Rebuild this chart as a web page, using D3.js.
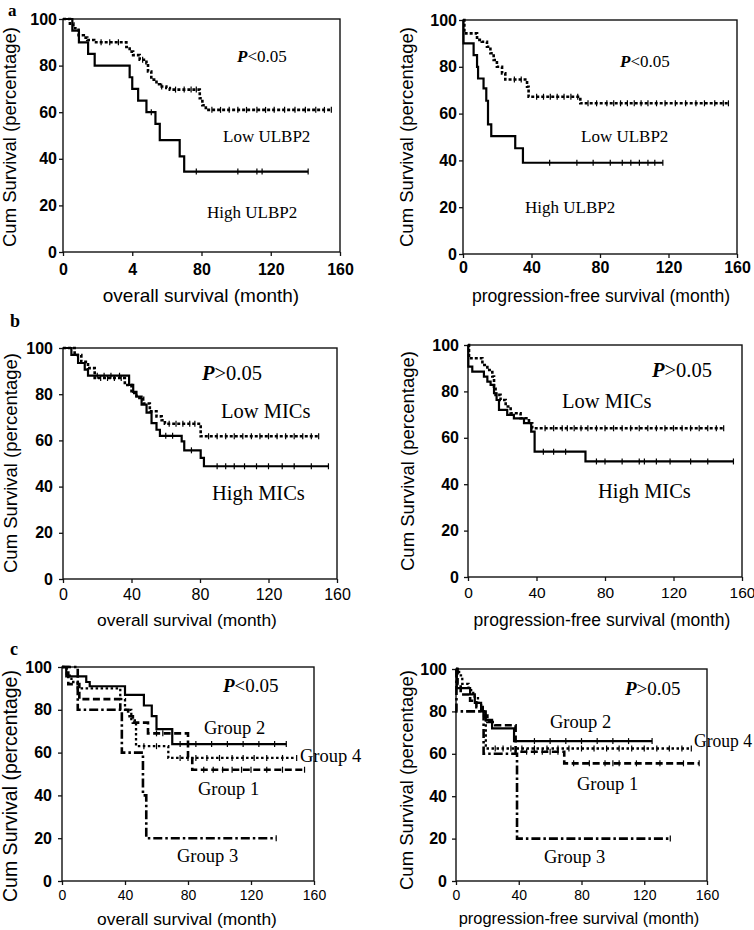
<!DOCTYPE html>
<html><head><meta charset="utf-8">
<script src="https://cdn.jsdelivr.net/npm/d3@7"></script>
<style>body{margin:0;background:#fff;} svg{display:block;}</style>
</head><body>
<script>
// ===== DATA =====
const yTickValues = [0, 20, 40, 60, 80, 100];
const xTickValues = [0, 40, 80, 120, 160];
const xTickLabelsAOS = ["0", "4", "80", "120", "160"];
const xTickLabels = ["0", "40", "80", "120", "160"];
const yTitle = "Cum Survival (percentage)";
const xTitleOS = "overall survival (month)";
const xTitlePFS = "progression-free survival (month)";

// Kaplan-Meier step points [month, survival %]
// Panel a: ULBP2, overall survival
const aOS_high = [[0,100],[5.4,95],[9.2,90],[14.5,85],[18.3,80],[38.5,75],[40,70],[43.4,65],[48.2,60],[53.4,55],[55.9,48],[67.4,41],[70,34.5]];
const aOS_high_end = 141.6;
const aOS_high_cens = [51, 77, 101, 112, 115, 141.6];
const aOS_low = [[0,100],[4,98],[6,96],[9,93],[12,92],[14,91],[18,90],[36.6,88],[38.5,86],[40.5,84.5],[44.3,82.5],[48.2,81],[49.1,77.5],[51,74],[54,72],[55.9,71],[59.7,70.4],[61.7,69.7],[79,66],[80.5,63],[82.5,61]];
const aOS_low_end = 155;
const aOS_low_cens = [22, 27, 32, 46, 57, 65, 70, 74, 77, 86, 91, 96, 101, 106, 112, 117, 122, 128, 134, 140, 146, 151, 155];
// Panel a: ULBP2, progression-free survival
const aPFS_high = [[0,100],[0.3,90],[6.2,85],[8.2,80],[8.8,75],[12,70.8],[13.6,65.5],[14.6,55.4],[16.5,50.4],[30.5,45.2],[35,39]];
const aPFS_high_end = 116.7;
const aPFS_high_cens = [50.6, 66.5, 76, 86, 93, 98, 103, 108, 112, 116.7];
const aPFS_low = [[0,100],[0.8,94.3],[8.2,91.5],[11,90.7],[14,88.6],[16,85.8],[17.9,82.9],[19.8,80],[22.8,77.2],[24.7,74.6],[37.4,71.5],[38.3,67.2],[68.5,64.4]];
const aPFS_low_end = 155;
const aPFS_low_cens = [30, 34, 43, 47, 51, 55, 59, 63, 67, 73, 78, 84, 88, 92, 96, 100, 104, 108, 113, 118, 124, 130, 136, 141, 147, 152, 155];
// Panel b: MICs, overall survival
const bOS_high = [[0,100],[4.9,97],[8.8,93.5],[12.7,90.6],[14.6,88],[38.6,84],[41,81],[42.9,79],[45.9,75.5],[48.8,72],[51.7,67.5],[54.6,64.6],[56.6,62],[69.3,59.6],[70.8,55.7],[80.4,52.4],[82.3,48.8]];
const bOS_high_end = 155;
const bOS_high_cens = [20, 24, 28, 33, 60, 64, 75, 90, 95, 100, 106, 113, 120, 128, 135, 145, 155];
const bOS_low = [[0,100],[6.8,97],[10.7,94],[14.6,91.3],[18.5,87],[36.1,84],[40,80.5],[42.9,78.4],[46.8,76],[50.7,72.6],[54.6,70.4],[57.6,68.7],[59.5,67.2],[80.4,61.8]];
const bOS_low_end = 149.3;
const bOS_low_cens = [22, 26, 30, 34, 62, 66, 70, 74, 77, 85, 90, 95, 100, 105, 110, 115, 120, 125, 130, 135, 140, 145, 149.3];
// Panel b: MICs, progression-free survival
const bPFS_high = [[0,100],[0.2,90.7],[2.5,88.5],[9.3,86.4],[11.3,84.2],[13.2,82.8],[15.2,79.2],[16.7,76.3],[18.1,72],[22.9,69.9],[26.8,68.4],[32.7,66.3],[36.9,62.7],[38.9,54],[68.6,49.8]];
const bPFS_high_end = 155;
const bPFS_high_cens = [44, 50, 57, 75, 80, 90, 100, 103, 110, 118, 130, 140, 155];
const bPFS_low = [[0,100],[0.6,94.3],[8.4,91.4],[11.3,89.2],[14.2,86.4],[15.2,82],[16.1,78.5],[19,76.3],[22,73.5],[24.9,70.6],[30.7,68.4],[35.6,66.3],[37.5,64.1]];
const bPFS_low_end = 149.3;
const bPFS_low_cens = [45, 50, 55, 58, 62, 66, 70, 75, 80, 85, 90, 95, 100, 105, 110, 115, 120, 125, 130, 135, 140, 145, 149.3];
// Panel c: groups, overall survival
const cOS_g1 = [[0,100],[4,92],[11,85],[37,80],[42,77],[45,74],[54.6,69],[80,58],[82.7,52]];
const cOS_g1_end = 154;
const cOS_g1_cens = [60, 64, 90, 96, 102, 108, 114, 120, 130, 140, 154];
const cOS_g2 = [[0,100],[2.7,95.6],[15.4,93],[17.6,91],[40,87],[52,82],[57,77],[60,71],[70,64]];
const cOS_g2_end = 142.4;
const cOS_g2_cens = [75, 85, 95, 105, 115, 125, 135, 142.4];
const cOS_g3 = [[0,100],[10,80],[38,60],[51.4,40],[53.5,20]];
const cOS_g3_end = 136;
const cOS_g3_cens = [136];
const cOS_g4 = [[0,100],[3,96],[6,93],[10,90],[37,85],[40,80],[44,75],[47,63],[67.5,57.5]];
const cOS_g4_end = 149;
const cOS_g4_cens = [52, 60, 75, 80, 85, 92, 100, 108, 115, 122, 130, 140, 149];
// Panel c: groups, progression-free survival
const cPFS_g1 = [[0,100],[1,93],[3,88],[9,85],[13,82],[17,78],[20,75],[25,73.5],[38,61],[69,55.5]];
const cPFS_g1_end = 155;
const cPFS_g1_cens = [45, 50, 55, 60, 65, 75, 85, 95, 100, 104, 115, 130, 145, 155];
const cPFS_g2 = [[0,100],[0.5,91],[9,88],[12,84],[16,80],[19,76],[23,72],[37,66]];
const cPFS_g2_end = 125;
const cPFS_g2_cens = [50, 60, 70, 80, 90, 100, 110, 125];
const cPFS_g3 = [[0,100],[0.3,80],[17.6,60],[38.9,20]];
const cPFS_g3_end = 136.6;
const cPFS_g3_cens = [136.6];
const cPFS_g4 = [[0,100],[2,97],[4,93],[8,90],[11,87],[14,84],[16,80],[18,76],[19,62.5]];
const cPFS_g4_end = 150;
const cPFS_g4_cens = [25, 30, 35, 42, 50, 58, 65, 72, 80, 88, 96, 104, 112, 120, 128, 136, 144, 150];

// ===== LAYOUT / STYLE =====
const SANS = "'Liberation Sans', Arial, Helvetica, sans-serif";
const SERIF = "'Liberation Serif', 'Times New Roman', Times, serif";
const STYLES = {
  solid:   {w: 2.2, dash: null},
  dotted:  {w: 2.6, dash: "3,2"},
  dots4:   {w: 2.3, dash: "2.5,2.5"},
  dashed:  {w: 2.6, dash: "7,3.5"},
  dashdot: {w: 2.6, dash: "9,3,2.5,3"}
};

const svg = d3.select("body").append("svg").attr("width", 754).attr("height", 930);

function survAt(steps, t) {
  let v = steps[0][1];
  for (const s of steps) { if (s[0] <= t) v = s[1]; }
  return v;
}

function drawPanel(p) {
  const x = d3.scaleLinear().domain([0, 160]).range([p.l, p.r]);
  const y = d3.scaleLinear().domain([0, 100]).range([p.b, p.t]);
  const g = svg.append("g");

  // y axis
  const yAx = g.append("g").attr("transform", `translate(${p.l},0)`)
    .call(d3.axisLeft(y).tickValues(yTickValues).tickSize(4).tickPadding(p.yPad));
  yAx.select(".domain").remove();
  yAx.selectAll("line").attr("stroke", "#111").attr("stroke-width", 1.3);
  yAx.selectAll("text").attr("font-family", SANS).attr("font-size", p.yFs)
    .attr("font-weight", "bold").attr("fill", "#000");

  // x axis
  const xAx = g.append("g").attr("transform", `translate(0,${p.b})`)
    .call(d3.axisBottom(x).tickValues(xTickValues).tickSize(4)
      .tickPadding(p.xBase - p.b - 4 - 0.71 * p.xFs)
      .tickFormat((d, i) => p.xLabels[i]));
  xAx.select(".domain").remove();
  xAx.selectAll("line").attr("stroke", "#111").attr("stroke-width", 1.3);
  xAx.selectAll("text").attr("font-family", SANS).attr("font-size", p.xFs)
    .attr("font-weight", p.xBold ? "bold" : "normal").attr("fill", "#000");

  // frame
  g.append("rect").attr("x", p.l).attr("y", p.t).attr("width", p.r - p.l).attr("height", p.b - p.t)
    .attr("fill", "none").attr("stroke", "#111").attr("stroke-width", 1.4);

  // curves
  const line = d3.line().x(d => x(d[0])).y(d => y(d[1])).curve(d3.curveStepAfter);
  p.series.forEach(s => {
    const st = STYLES[s.style];
    const pts = s.steps.concat([[s.end, s.steps[s.steps.length - 1][1]]]);
    g.append("path").attr("d", line(pts)).attr("fill", "none").attr("stroke", "#000")
      .attr("stroke-width", st.w).attr("stroke-dasharray", st.dash)
      .attr("stroke-linejoin", "miter").attr("stroke-linecap", "butt");
    g.selectAll(null).data(s.cens).enter().append("line")
      .attr("x1", d => x(d)).attr("x2", d => x(d))
      .attr("y1", d => y(survAt(s.steps, d)) - 3).attr("y2", d => y(survAt(s.steps, d)) + 3)
      .attr("stroke", "#000").attr("stroke-width", 1.2);
  });

  // axis titles
  g.append("text").attr("x", p.xtX).attr("y", p.xtY).attr("text-anchor", "middle")
    .attr("font-family", SANS).attr("font-size", p.xtFs).text(p.xTitle);
  g.append("text").attr("transform", `translate(${p.ytX},${p.ytY}) rotate(-90)`)
    .attr("text-anchor", "middle").attr("dy", "0.35em")
    .attr("font-family", SANS).attr("font-size", p.ytFs).text(yTitle);

  // annotations
  p.notes.forEach(n => {
    const t = g.append("text").attr("x", n.x).attr("y", n.y)
      .attr("font-family", SERIF).attr("font-size", n.fs)
      .attr("font-weight", n.bold ? "bold" : "normal").attr("fill", "#000");
    if (n.len) t.attr("textLength", n.len).attr("lengthAdjust", "spacingAndGlyphs");
    if (n.p) {
      t.append("tspan").attr("font-style", "italic").attr("font-weight", "bold").text("P");
      t.append("tspan").text(n.text);
    } else t.text(n.text);
  });
}

const panels = [
  {l: 63, r: 340, t: 19, b: 252, yPad: 2, yFs: 16, xFs: 16, xBold: true, xBase: 275, xLabels: xTickLabelsAOS,
   xTitle: xTitleOS, xtX: 201, xtY: 302, xtFs: 19, ytX: 10, ytY: 137, ytFs: 18.5,
   series: [
     {steps: aOS_high, end: aOS_high_end, cens: aOS_high_cens, style: "solid"},
     {steps: aOS_low, end: aOS_low_end, cens: aOS_low_cens, style: "dotted"}],
   notes: [
     {x: 237, y: 62, fs: 17, p: true, text: "<0.05"},
     {x: 223, y: 142, fs: 17, text: "Low ULBP2"},
     {x: 207, y: 218, fs: 17, text: "High ULBP2"}]},
  {l: 463, r: 737, t: 20, b: 254, yPad: 2, yFs: 16, xFs: 16, xBold: true, xBase: 273, xLabels: xTickLabels,
   xTitle: xTitlePFS, xtX: 601, xtY: 302, xtFs: 17.6, ytX: 407, ytY: 137, ytFs: 18.5,
   series: [
     {steps: aPFS_high, end: aPFS_high_end, cens: aPFS_high_cens, style: "solid"},
     {steps: aPFS_low, end: aPFS_low_end, cens: aPFS_low_cens, style: "dotted"}],
   notes: [
     {x: 620, y: 67, fs: 17, p: true, text: "<0.05"},
     {x: 581, y: 142, fs: 17, text: "Low ULBP2"},
     {x: 525, y: 213, fs: 17, text: "High ULBP2"}]},
  {l: 63, r: 337, t: 348, b: 579, yPad: 6, yFs: 16, xFs: 16, xBold: false, xBase: 600, xLabels: xTickLabels,
   xTitle: xTitleOS, xtX: 187, xtY: 626, xtFs: 17.4, ytX: 11, ytY: 463, ytFs: 18.5,
   series: [
     {steps: bOS_high, end: bOS_high_end, cens: bOS_high_cens, style: "solid"},
     {steps: bOS_low, end: bOS_low_end, cens: bOS_low_cens, style: "dotted"}],
   notes: [
     {x: 202, y: 380, fs: 20.5, p: true, text: ">0.05"},
     {x: 221, y: 418, fs: 20.5, text: "Low MICs"},
     {x: 212, y: 500, fs: 20.5, text: "High MICs"}]},
  {l: 468, r: 742, t: 345, b: 577, yPad: 5, yFs: 16, xFs: 15.5, xBold: false, xBase: 598, xLabels: xTickLabels,
   xTitle: xTitlePFS, xtX: 602, xtY: 626, xtFs: 17.5, ytX: 408, ytY: 461, ytFs: 18.5,
   series: [
     {steps: bPFS_high, end: bPFS_high_end, cens: bPFS_high_cens, style: "solid"},
     {steps: bPFS_low, end: bPFS_low_end, cens: bPFS_low_cens, style: "dotted"}],
   notes: [
     {x: 652, y: 377, fs: 20.5, p: true, text: ">0.05"},
     {x: 562, y: 408, fs: 20.5, text: "Low MICs"},
     {x: 598, y: 498, fs: 20.5, text: "High MICs"}]},
  {l: 62, r: 314, t: 667, b: 881, yPad: 6, yFs: 16, xFs: 14, xBold: false, xBase: 900, xLabels: xTickLabels,
   xTitle: xTitleOS, xtX: 187, xtY: 925, xtFs: 17.4, ytX: 10, ytY: 786, ytFs: 19.5,
   series: [
     {steps: cOS_g1, end: cOS_g1_end, cens: cOS_g1_cens, style: "dashed"},
     {steps: cOS_g2, end: cOS_g2_end, cens: cOS_g2_cens, style: "solid"},
     {steps: cOS_g3, end: cOS_g3_end, cens: cOS_g3_cens, style: "dashdot"},
     {steps: cOS_g4, end: cOS_g4_end, cens: cOS_g4_cens, style: "dots4"}],
   notes: [
     {x: 223, y: 692, fs: 19, p: true, text: "<0.05"},
     {x: 204, y: 734, fs: 18.5, text: "Group 2"},
     {x: 300, y: 762, fs: 18.5, text: "Group 4"},
     {x: 198, y: 795, fs: 18.5, text: "Group 1"},
     {x: 177, y: 862, fs: 18.5, text: "Group 3"}]},
  {l: 456, r: 707, t: 669, b: 881, yPad: 5, yFs: 16, xFs: 14, xBold: false, xBase: 900, xLabels: xTickLabels,
   xTitle: xTitlePFS, xtX: 579, xtY: 924, xtFs: 16.4, ytX: 407, ytY: 780, ytFs: 18.5,
   series: [
     {steps: cPFS_g1, end: cPFS_g1_end, cens: cPFS_g1_cens, style: "dashed"},
     {steps: cPFS_g2, end: cPFS_g2_end, cens: cPFS_g2_cens, style: "solid"},
     {steps: cPFS_g3, end: cPFS_g3_end, cens: cPFS_g3_cens, style: "dashdot"},
     {steps: cPFS_g4, end: cPFS_g4_end, cens: cPFS_g4_cens, style: "dots4"}],
   notes: [
     {x: 625, y: 695, fs: 19, p: true, text: ">0.05"},
     {x: 550, y: 728, fs: 18.5, text: "Group 2"},
     {x: 694, y: 747, fs: 18.5, len: 58, text: "Group 4"},
     {x: 577, y: 790, fs: 18.5, text: "Group 1"},
     {x: 544, y: 863, fs: 18.5, text: "Group 3"}]}
];
panels.forEach(drawPanel);

// panel letters
const letters = [{t: "a", x: 8, y: 16, fs: 17}, {t: "b", x: 10, y: 327, fs: 18}, {t: "c", x: 10, y: 655, fs: 18}];
svg.selectAll(null).data(letters).enter().append("text")
  .attr("x", d => d.x).attr("y", d => d.y).attr("font-family", SERIF)
  .attr("font-weight", "bold").attr("font-size", d => d.fs).text(d => d.t);
</script>
</body></html>
